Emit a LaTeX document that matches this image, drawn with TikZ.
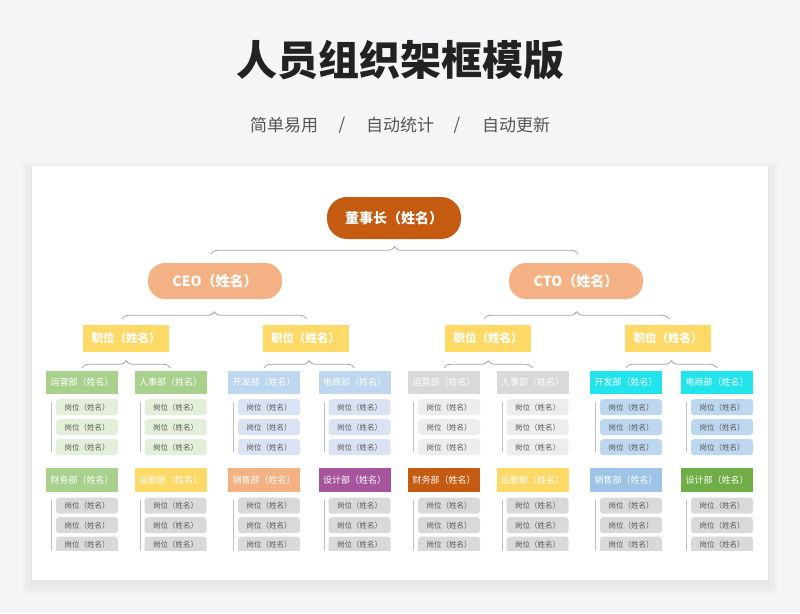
\documentclass[tikz,border=0pt]{standalone}
\usepackage{fontspec}
\setmainfont{Noto Sans CJK SC}
\newfontfamily\cjk{Noto Sans CJK SC}
\usetikzlibrary{decorations.pathreplacing,calc}
\definecolor{bgc}{HTML}{F4F5F7}
\definecolor{titlec}{HTML}{222222}
\definecolor{subc}{HTML}{555555}
\definecolor{chairc}{HTML}{C55A11}
\definecolor{ceoc}{HTML}{F4B183}
\definecolor{jobc}{HTML}{FFD966}
\definecolor{linec}{HTML}{A6A6A6}
\definecolor{vlinec}{HTML}{BFBFBF}
\definecolor{postext}{HTML}{595959}
\definecolor{cgreen}{HTML}{A9D18E}
\definecolor{lgreen}{HTML}{E2F0D9}
\definecolor{cblue}{HTML}{BDD7EE}
\definecolor{lblue}{HTML}{DAE3F3}
\definecolor{cgray}{HTML}{D9D9D9}
\definecolor{lgray}{HTML}{EDEDED}
\definecolor{ccyan}{HTML}{22E4EC}
\definecolor{cyanpos}{HTML}{BDD7EE}
\definecolor{cyellow}{HTML}{FFD966}
\definecolor{corange}{HTML}{F4B183}
\definecolor{cpurple}{HTML}{A5559E}
\definecolor{cdkorange}{HTML}{C55A11}
\definecolor{csky}{HTML}{9DC3E6}
\definecolor{cdgreen}{HTML}{70AD47}
\definecolor{posgray}{HTML}{D9D9D9}
\begin{document}
\begin{tikzpicture}[x=1pt,y=-1pt,font=\cjk,
  pillbox/.style={rounded corners=17pt,text=white,inner sep=0pt,font=\cjk\bfseries\fontsize{14}{14}\selectfont},
  jobbox/.style={fill=jobc,text=white,minimum width=86pt,minimum height=27pt,inner sep=0pt,font=\cjk\bfseries\fontsize{11.5}{11.5}\selectfont},
  deptbox/.style={text=white,minimum width=72pt,minimum height=23pt,inner sep=0pt,font=\cjk\fontsize{9}{9}\selectfont},
  posbox/.style={rounded corners=3pt,text=postext,minimum width=62pt,minimum height=16pt,inner sep=0pt,font=\cjk\fontsize{7.5}{7.5}\selectfont},
  brc/.style={draw=linec,line width=0.8pt,decorate,decoration={brace,amplitude=7pt}},
  vline/.style={draw=vlinec,line width=0.9pt}]
\fill[bgc] (0,0) rectangle (800,613);
\useasboundingbox (0,0) rectangle (800,613);
% panel with soft shadow
\foreach \k in {1,...,14}{
  \fill[black,opacity=0.0045] (32-0.8*\k,166-0.6*\k+4) rectangle (768+0.8*\k,580+\k+2);
}
\fill[white] (32,166) rectangle (768,580);
% title
\node[text=titlec,font=\cjk\bfseries\fontsize{41}{41}\selectfont] (title) at (400,60) {人员组织架框模版};
\begin{scope}[every node/.style={text=subc,font=\cjk\fontsize{17}{17}\selectfont}]
\node (s1) at (284,125) {简单易用};
\node (sl1) at (342,125) {/};
\node (s2) at (400,125) {自动统计};
\node (sl2) at (457,125) {/};
\node (s3) at (516,125) {自动更新};
\end{scope}
% top levels
\node[pillbox,fill=chairc,minimum width=134pt,minimum height=42pt,rounded corners=20pt] (chair) at (394,218) {董事长（姓名）};
\node[pillbox,fill=ceoc,minimum width=134pt,minimum height=36pt] (ceo) at (215,281) {CEO（姓名）};
\node[pillbox,fill=ceoc,minimum width=134pt,minimum height=36pt] (cto) at (576,281) {CTO（姓名）};
\draw[brc] ($(ceo.north)+(-4,-9)$) -- ($(cto.north)+(2,-9)$);
\node[jobbox] (j1) at (126,338.5) {职位（姓名）};
\node[jobbox] (j2) at (305.5,338.5) {职位（姓名）};
\node[jobbox] (j3) at (488,338.5) {职位（姓名）};
\node[jobbox] (j4) at (668,338.5) {职位（姓名）};
\draw[brc] ($(j1.north)+(-4,-6)$) -- ($(j2.north)+(1,-6)$);
\draw[brc] ($(j3.north)+(-4,-6)$) -- ($(j4.north)+(1,-6)$);
% row 1 departments
\foreach \i/\x/\nm/\dc/\pc in {1/82/运营部/cgreen/lgreen,2/170.5/人事部/cgreen/lgreen,3/264/开发部/cblue/lblue,4/354.5/电商部/cblue/lblue,5/444/运营部/cgray/lgray,6/532.5/人事部/cgray/lgray,7/626/开发部/ccyan/cyanpos,8/717/电商部/ccyan/cyanpos}{
  \node[deptbox,fill=\dc] (a\i) at (\x,382.5) {\nm（姓名）};
  \node[posbox,fill=\pc] (a\i p1) at ($(a\i.south)+(5,13)$) {岗位（姓名）};
  \node[posbox,fill=\pc] (a\i p2) at ($(a\i p1)+(0,20)$) {岗位（姓名）};
  \node[posbox,fill=\pc] (a\i p3) at ($(a\i p2)+(0,20)$) {岗位（姓名）};
  \coordinate (a\i t) at ($(a\i.south west)+(6,8)$);
  \coordinate (a\i b) at ($(a\i t |- a\i p3.south)+(0,-3)$);
  \draw[vline] (a\i t) -- (a\i b);
}
\foreach \k/\l/\r in {1/1/2,2/3/4,3/5/6,4/7/8}{
  \draw[brc] ($(a\l.north)+(0,-3)$) -- ($(a\r.north)+(0,-3)$);
}
% row 2 departments
\begin{scope}
\clip (32,455) rectangle (768,550);
\foreach \i/\x/\nm/\dc in {1/82/财务部/cgreen,2/170.5/后勤部/cyellow,3/264/销售部/corange,4/354.5/设计部/cpurple,5/444/财务部/cdkorange,6/532.5/后勤部/cyellow,7/626/销售部/csky,8/717/设计部/cdgreen}{
  \node[deptbox,fill=\dc,minimum height=24pt] (b\i) at (\x,480) {\nm（姓名）};
  \node[posbox,fill=posgray] (b\i p1) at ($(b\i.south)+(5,13.5)$) {岗位（姓名）};
  \node[posbox,fill=posgray] (b\i p2) at ($(b\i p1)+(0,19.5)$) {岗位（姓名）};
  \node[posbox,fill=posgray] (b\i p3) at ($(b\i p2)+(0,19.5)$) {岗位（姓名）};
  \coordinate (b\i t) at ($(b\i.south west)+(6,8)$);
  \coordinate (b\i b) at ($(b\i t |- b\i p3.south)$);
  \draw[vline] (b\i t) -- (b\i b);
}
\end{scope}
\end{tikzpicture}
\end{document}
